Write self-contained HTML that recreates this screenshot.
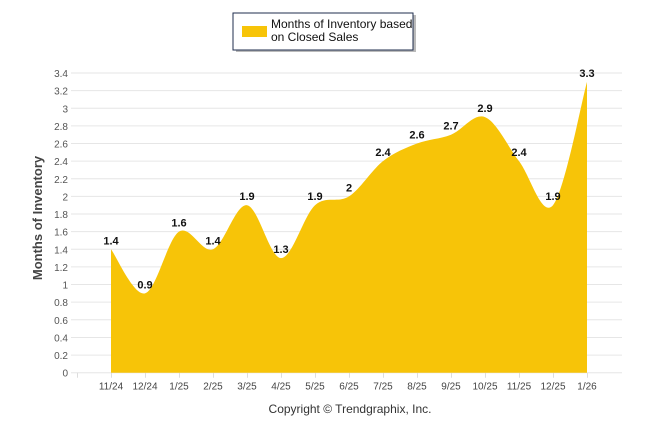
<!DOCTYPE html>
<html><head><meta charset="utf-8"><style>
body{margin:0;background:#fff;width:646px;height:434px;overflow:hidden;font-family:"Liberation Sans",Arial,sans-serif}
</style></head><body>
<svg width="646" height="434" xmlns="http://www.w3.org/2000/svg">
<g>
<rect x="236" y="15" width="180" height="37" fill="#bbb"/>
<rect x="233" y="13" width="180" height="37" fill="#fff" stroke="#1f2d4d" stroke-width="1"/>
<rect x="242" y="26" width="25" height="11" fill="#F7C408"/>
<text x="271" y="28" font-size="12" fill="#111">Months of Inventory based</text>
<text x="271" y="41" font-size="12" fill="#111">on Closed Sales</text>
</g>
<g id="grid"></g>
<g id="marks"></g>
<g id="labels"></g>
<text transform="translate(42,218) rotate(-90)" text-anchor="middle" font-size="13" font-weight="bold" fill="#444">Months of Inventory</text>
<text x="350" y="413" text-anchor="middle" font-size="12" fill="#333">Copyright © Trendgraphix, Inc.</text>
</svg>
<script>
const categories=["11/24","12/24","1/25","2/25","3/25","4/25","5/25","6/25","7/25","8/25","9/25","10/25","11/25","12/25","1/26"];
const values=[1.4,0.9,1.6,1.4,1.9,1.3,1.9,2,2.4,2.6,2.7,2.9,2.4,1.9,3.3];
const yTicks=[0,0.2,0.4,0.6,0.8,1,1.2,1.4,1.6,1.8,2,2.2,2.4,2.6,2.8,3,3.2,3.4];
const NS="http://www.w3.org/2000/svg";
const x0=111,dx=34,y0=372.7,yMax=3.4,yTop=73;
const X=i=>x0+i*dx, Y=v=>y0-(v/yMax)*(y0-yTop);
function mk(t,a,p){const e=document.createElementNS(NS,t);for(const k in a)e.setAttribute(k,a[k]);p.appendChild(e);return e;}
const grid=document.getElementById('grid'),marks=document.getElementById('marks'),labels=document.getElementById('labels');
yTicks.forEach(v=>{
 const l=mk('line',{x1:71,x2:622,y1:Y(v),y2:Y(v),stroke:'#e6e6e6','stroke-width':1},grid);
 
 
 const t=mk('text',{x:68,y:Y(v)+4,'text-anchor':'end','font-size':10,fill:'#555'},grid);
 t.textContent=String(v);
 
 
});
for(let i=-1;i<categories.length;i++){
 const tk=mk('line',{x1:X(i)+0.5,x2:X(i)+0.5,y1:y0,y2:y0+5,stroke:'#ddd'},grid);
 
 
}
categories.forEach((c,i)=>{
 const t=mk('text',{x:X(i),y:y0+17,'text-anchor':'middle','font-size':10,fill:'#444'},grid);
 t.textContent=c;
 
 
});
const pts=values.map((v,i)=>[X(i),Y(v)]);
let d=`M${pts[0][0]},${y0} L${pts[0][0]},${pts[0][1]}`;
for(let i=0;i<pts.length-1;i++){
 const p0=pts[Math.max(0,i-1)],p1=pts[i],p2=pts[i+1],p3=pts[Math.min(pts.length-1,i+2)];
 const c1=[p1[0]+(p2[0]-p0[0])/6,p1[1]+(p2[1]-p0[1])/6];
 const c2=[p2[0]-(p3[0]-p1[0])/6,p2[1]-(p3[1]-p1[1])/6];
 d+=` C${c1[0]},${c1[1]} ${c2[0]},${c2[1]} ${p2[0]},${p2[1]}`;
}
d+=` L${pts[pts.length-1][0]},${y0} Z`;
const area=mk('path',{d:d,fill:'#F7C408'},marks);


values.forEach((v,i)=>{
 const t=mk('text',{x:X(i),y:Y(v)-5,'text-anchor':'middle','font-size':11,'font-weight':'bold',fill:'#111'},labels);
 t.textContent=String(v);
 
 
});
</script>
</body></html>
